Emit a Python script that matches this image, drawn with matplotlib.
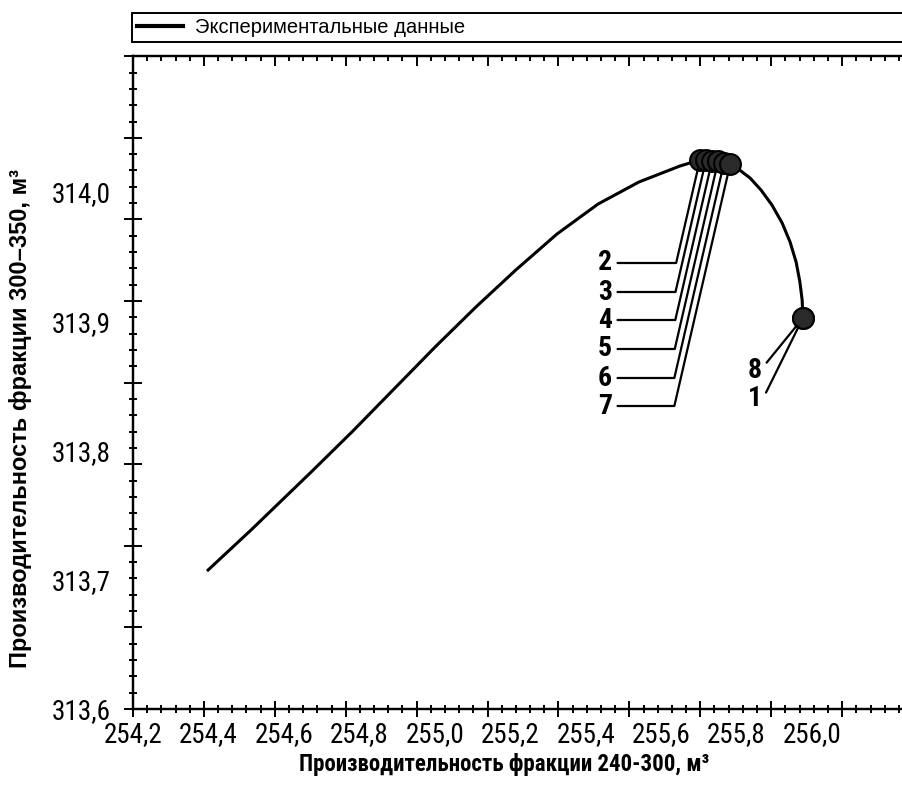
import numpy as np
from matplotlib import pyplot as plt
from matplotlib import font_manager
from matplotlib.ticker import FixedLocator, FuncFormatter, NullFormatter

# шрифты: узкий гротеск, если есть
names = {f.name for f in font_manager.fontManager.ttflist}
NARROW = next((n for n in ['Roboto Condensed', 'PT Sans Narrow', 'Fira Sans Condensed',
                           'Liberation Sans Narrow', 'Liberation Sans'] if n in names),
              'DejaVu Sans')
WIDE = 'Liberation Sans'
plt.rcParams['font.family'] = [NARROW, 'DejaVu Sans']

# кривая: фракция 240-300 (x) и 300-350 (y), м3
curve_x = [254.399, 254.513, 254.675, 254.783, 254.892, 255.001, 255.109, 255.215,
           255.324, 255.433, 255.541, 255.650, 255.703, 255.756, 255.801, 255.836,
           255.865, 255.894, 255.921, 255.942, 255.958, 255.968, 255.974, 255.976]
curve_y = [313.7075, 313.7385, 313.7841, 313.8151, 313.8476, 313.8801, 313.9110, 313.9397,
           313.9675, 313.9907, 314.0077, 314.0201, 314.0248, 314.0240, 314.0186, 314.0108,
           314.0015, 313.9899, 313.9760, 313.9613, 313.9458, 313.9304, 313.9164, 313.9025]

# экспериментальные точки 1..8
point_ids = ['1', '2', '3', '4', '5', '6', '7', '8']
point_x = [255.976, 255.703, 255.719, 255.735, 255.751, 255.767, 255.783, 255.976]
point_y = [313.9025, 314.0248, 314.0248, 314.0240, 314.0236, 314.0228, 314.0213, 313.9025]

x_labels = [254.2, 254.4, 254.6, 254.8, 255.0, 255.2, 255.4, 255.6, 255.8, 256.0]
y_labels = [313.6, 313.7, 313.8, 313.9, 314.0]

W, H = 903, 787
fig = plt.figure(figsize=(W / 100, H / 100), dpi=100)
ax = fig.add_axes([133 / W, 78 / H, 867 / W, 653 / H])
ax.set_xlim(254.2, 254.2 + 867 / 377.2)
ax.set_ylim(313.6, 313.6 + 653 / 1292.5)

line, = ax.plot(curve_x, curve_y, color='black', lw=2.2, zorder=2,
                label='Экспериментальные данные')
ax.plot(point_x, point_y, 'o', ms=15, mfc='#2a2a2a', mec='black', mew=1.5, zorder=3)

# подписи осей (на месте делений) - без самих засечек
comma = FuncFormatter(lambda v, p: f'{v:.1f}'.replace('.', ','))
ax.set_xticks(x_labels)
ax.set_yticks(y_labels)
ax.xaxis.set_major_formatter(comma)
ax.yaxis.set_major_formatter(comma)
ax.tick_params(axis='both', which='both', length=0, labelsize=19.5)
ax.tick_params(axis='x', pad=9)
ax.tick_params(axis='y', pad=16)

for s in ['left', 'bottom', 'top']:
    ax.spines[s].set_linewidth(1.6)
ax.spines['right'].set_visible(False)

# засечки
x_step = 0.188
y_step = 0.06313
x_major = 254.2 + x_step * np.arange(13)
x_minor = 254.2 + x_step / 5 * np.arange(65)
y_major = 313.6 + y_step * np.arange(9)
y_minor = 313.6 + y_step / 5 * np.arange(41)

ident = (lambda v: v, lambda v: v)
for loc, direc, big, small in [('bottom', 'inout', 12, 6), ('top', 'in', 7, 3.5)]:
    sx = ax.secondary_xaxis(loc, functions=ident)
    sx.xaxis.set_major_locator(FixedLocator(x_major))
    sx.xaxis.set_minor_locator(FixedLocator(x_minor))
    sx.xaxis.set_major_formatter(NullFormatter())
    sx.tick_params(which='major', direction=direc, length=big, width=1.4)
    sx.tick_params(which='minor', direction=direc, length=small, width=1.4)
    sx.spines[loc].set_linewidth(1.6)

sy = ax.secondary_yaxis('left', functions=ident)
sy.yaxis.set_major_locator(FixedLocator(y_major))
sy.yaxis.set_minor_locator(FixedLocator(y_minor))
sy.yaxis.set_major_formatter(NullFormatter())
sy.tick_params(which='major', direction='inout', length=13, width=1.4)
sy.tick_params(which='minor', direction='inout', length=6, width=1.4)
sy.spines['left'].set_linewidth(1.6)

ax.set_xlabel('Производительность фракции 240-300, м³', fontsize=16.5,
              fontweight='bold', va='center')
ax.xaxis.set_label_coords((504 - 133) / 867, (709 - 765) / 653)
ax.set_ylabel('Производительность фракции 300–350, м³', fontsize=17,
              fontweight='bold', family=[WIDE, 'DejaVu Sans'], va='center')
ax.yaxis.set_label_coords((20 - 133) / 867, (709 - 418) / 653)

# выноски номеров точек
label_y = {'2': 263, '3': 292, '4': 320, '5': 349, '6': 378, '7': 406}
for pid, px, py in zip(point_ids, point_x, point_y):
    if pid in label_y:
        ax.annotate(pid, xy=(px, py), xytext=(612, H - label_y[pid]),
                    textcoords='figure pixels', ha='right', va='center',
                    fontsize=20, fontweight='bold',
                    arrowprops=dict(arrowstyle='-', lw=1.6, color='black',
                                    connectionstyle='angle,angleA=0,angleB=77,rad=0',
                                    shrinkA=2, shrinkB=7))
ax.annotate('8', xy=(point_x[7], point_y[7]), xytext=(755, H - 370),
            textcoords='figure pixels', ha='center', va='center',
            fontsize=20, fontweight='bold',
            arrowprops=dict(arrowstyle='-', lw=1.6, color='black',
                            relpos=(0.9, 0.5), shrinkA=2, shrinkB=7))
ax.annotate('1', xy=(point_x[0], point_y[0]), xytext=(755, H - 398),
            textcoords='figure pixels', ha='center', va='center',
            fontsize=20, fontweight='bold',
            arrowprops=dict(arrowstyle='-', lw=1.6, color='black',
                            relpos=(1.0, 0.4), shrinkA=2, shrinkB=7))

leg = ax.legend(handles=[line], loc='upper left', mode='expand',
                bbox_to_anchor=(132 / W, 1 - 43 / H, 1.0, 30 / H),
                bbox_transform=fig.transFigure, borderaxespad=0,
                fancybox=False, framealpha=1, edgecolor='black',
                prop={'family': WIDE, 'size': 14.5},
                handlelength=2.3, handletextpad=0.6, borderpad=0.25)
leg.get_frame().set_linewidth(1.4)
leg.get_lines()[0].set_linewidth(3)

plt.savefig('out.png', dpi=100)
